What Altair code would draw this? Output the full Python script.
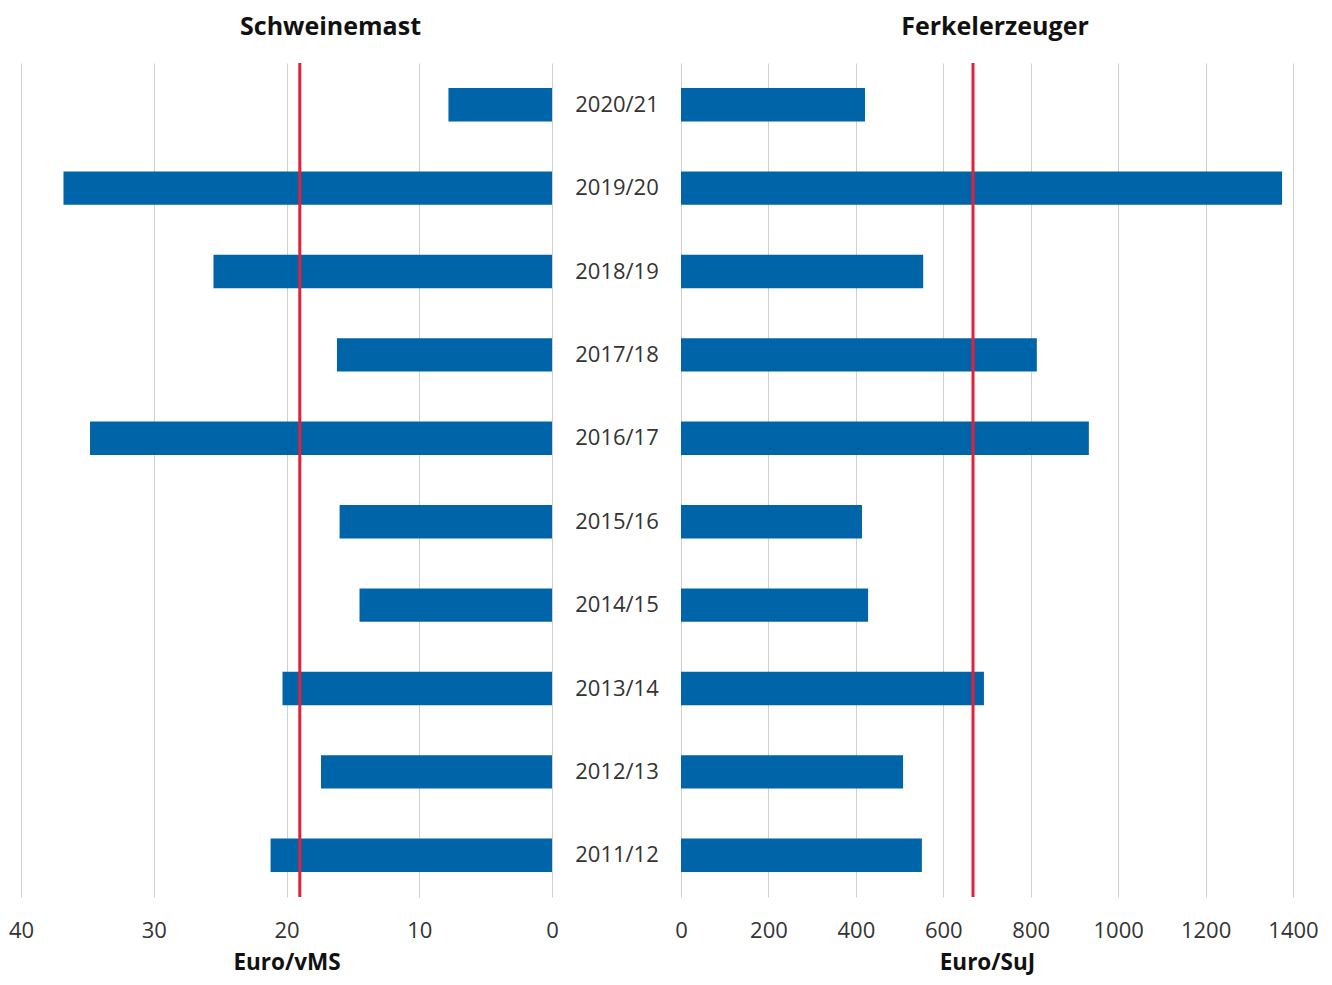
import altair as alt
import pandas as pd

years = ["2020/21", "2019/20", "2018/19", "2017/18", "2016/17",
         "2015/16", "2014/15", "2013/14", "2012/13", "2011/12"]
mast = [7.8, 36.8, 25.5, 16.2, 34.8, 16.0, 14.5, 20.3, 17.4, 21.2]
ferkel = [421, 1375, 554, 814, 933, 414, 428, 693, 508, 551]
mast_avg = [19.0]
ferkel_avg = [668]

df = pd.DataFrame({"Jahr": years, "Schweinemast": mast, "Ferkelerzeuger": ferkel})
avg_m = pd.DataFrame({"v": mast_avg})
avg_f = pd.DataFrame({"v": ferkel_avg})

BLUE = "#0064A8"
RED = "#E4203A"
FONT = "Open Sans"
H = 834
LBL = 22

yenc = alt.Y("Jahr:N", sort=years, axis=None,
             scale=alt.Scale(paddingInner=0.6, paddingOuter=0.3))

def xaxis(title, values):
    return alt.Axis(title=title, values=values, format="d", grid=True,
                    gridColor="#d0d0d0", gridWidth=1, domain=False, ticks=False,
                    tickSize=0, labelFlush=False, labelOverlap=False, labelBound=False,
                    labelPadding=23, labelFontSize=LBL, labelColor="#333333",
                    labelFont=FONT, titleFont=FONT, titleFontSize=22.5,
                    titleFontWeight="bold", titleColor="#111111", titlePadding=10)

def ptitle(text, dx):
    return alt.TitleParams(text, font=FONT, fontSize=25, fontWeight="bold",
                           color="#111111", anchor="middle", dx=dx, offset=22)

left_bars = alt.Chart(df).mark_bar(color=BLUE).encode(
    x=alt.X("Schweinemast:Q",
            scale=alt.Scale(domain=[0, 40], reverse=True, nice=False),
            axis=xaxis("Euro/vMS", [0, 10, 20, 30, 40])),
    y=yenc,
)
left_rule = alt.Chart(avg_m).mark_rule(color=RED, strokeWidth=3).encode(x="v:Q")
left = alt.layer(left_bars, left_rule).properties(
    width=531, height=H, title=ptitle("Schweinemast", 44))

mid = alt.Chart(df).mark_text(fontSize=LBL, font=FONT, color="#333333").encode(
    y=yenc,
    text="Jahr:N",
    x=alt.value(65),
).properties(width=129, height=H, title=ptitle("\u00a0", 0))

right_bars = alt.Chart(df).mark_bar(color=BLUE).encode(
    x=alt.X("Ferkelerzeuger:Q",
            scale=alt.Scale(domain=[0, 1400], nice=False),
            axis=xaxis("Euro/SuJ", [0, 200, 400, 600, 800, 1000, 1200, 1400])),
    y=yenc,
)
right_rule = alt.Chart(avg_f).mark_rule(color=RED, strokeWidth=3).encode(x="v:Q")
right = alt.layer(right_bars, right_rule).properties(
    width=612, height=H, title=ptitle("Ferkelerzeuger", 8))

chart = alt.hconcat(left, mid, right, spacing=0, bounds="flush").configure_view(
    stroke=None).properties(padding={"left": 0, "top": 6, "right": 0, "bottom": 2})

chart.save("out.html", embed_options={"renderer": "svg", "actions": False})
